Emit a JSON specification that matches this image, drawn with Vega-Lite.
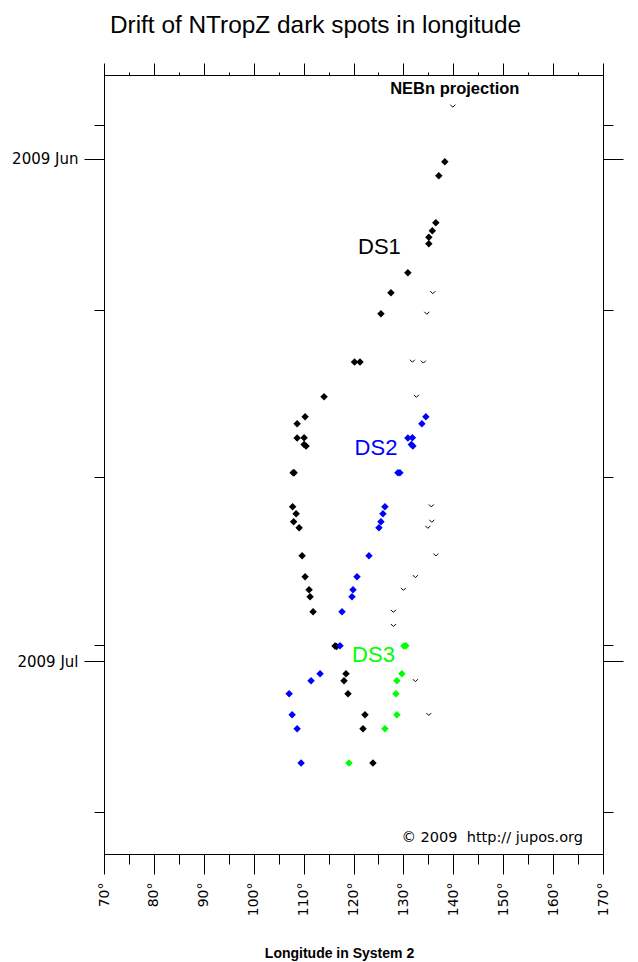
{
  "$schema": "https://vega.github.io/schema/vega-lite/v6.json",
  "autosize": {"type": "none"},
  "width": 499,
  "height": 779,
  "padding": {"left": 104, "top": 75, "right": 35, "bottom": 108},
  "background": "white",
  "title": {"text": "Drift of NTropZ dark spots in longitude", "font": "Liberation Sans", "fontSize": 24.4, "fontWeight": "normal", "color": "black", "anchor": "middle", "frame": "group", "dx": -38, "baseline": "alphabetic", "offset": 5},
  "config": {
    "view": {"stroke": "black", "strokeWidth": 1},
    "axis": {"domainColor": "black", "tickColor": "black", "labelColor": "black", "titleColor": "black", "grid": false, "domainWidth": 1, "tickWidth": 1, "labelOverlap": false, "labelFlush": false, "labelBound": false}
  },
  "datasets": {
    "spots": [
      {"lon": 138.3, "t": "2009-06-01T04:10:00Z", "series": "DS1"},
      {"lon": 137.1, "t": "2009-06-02T00:20:00Z", "series": "DS1"},
      {"lon": 136.5, "t": "2009-06-04T19:40:00Z", "series": "DS1"},
      {"lon": 135.8, "t": "2009-06-05T07:00:00Z", "series": "DS1"},
      {"lon": 135.1, "t": "2009-06-05T16:30:00Z", "series": "DS1"},
      {"lon": 135.1, "t": "2009-06-06T01:40:00Z", "series": "DS1"},
      {"lon": 130.9, "t": "2009-06-07T19:10:00Z", "series": "DS1"},
      {"lon": 127.5, "t": "2009-06-09T00:00:00Z", "series": "DS1"},
      {"lon": 125.5, "t": "2009-06-10T06:00:00Z", "series": "DS1"},
      {"lon": 120.2, "t": "2009-06-13T03:10:00Z", "series": "DS1"},
      {"lon": 121.3, "t": "2009-06-13T03:00:00Z", "series": "DS1"},
      {"lon": 114.1, "t": "2009-06-15T05:00:00Z", "series": "DS1"},
      {"lon": 110.3, "t": "2009-06-16T09:40:00Z", "series": "DS1"},
      {"lon": 108.7, "t": "2009-06-16T19:40:00Z", "series": "DS1"},
      {"lon": 108.7, "t": "2009-06-17T16:10:00Z", "series": "DS1"},
      {"lon": 110.1, "t": "2009-06-17T15:40:00Z", "series": "DS1"},
      {"lon": 110.1, "t": "2009-06-18T01:30:00Z", "series": "DS1"},
      {"lon": 110.5, "t": "2009-06-18T03:40:00Z", "series": "DS1"},
      {"lon": 107.9, "t": "2009-06-19T17:50:00Z", "series": "DS1"},
      {"lon": 108.1, "t": "2009-06-19T17:50:00Z", "series": "DS1"},
      {"lon": 107.8, "t": "2009-06-21T18:30:00Z", "series": "DS1"},
      {"lon": 108.5, "t": "2009-06-22T04:30:00Z", "series": "DS1"},
      {"lon": 108.0, "t": "2009-06-22T16:00:00Z", "series": "DS1"},
      {"lon": 109.1, "t": "2009-06-23T00:40:00Z", "series": "DS1"},
      {"lon": 109.7, "t": "2009-06-24T16:50:00Z", "series": "DS1"},
      {"lon": 110.3, "t": "2009-06-25T22:50:00Z", "series": "DS1"},
      {"lon": 111.1, "t": "2009-06-26T17:30:00Z", "series": "DS1"},
      {"lon": 111.3, "t": "2009-06-27T03:30:00Z", "series": "DS1"},
      {"lon": 111.9, "t": "2009-06-28T01:00:00Z", "series": "DS1"},
      {"lon": 116.3, "t": "2009-06-30T02:10:00Z", "series": "DS1"},
      {"lon": 116.6, "t": "2009-06-30T02:40:00Z", "series": "DS1"},
      {"lon": 118.5, "t": "2009-07-01T17:50:00Z", "series": "DS1"},
      {"lon": 118.1, "t": "2009-07-02T03:50:00Z", "series": "DS1"},
      {"lon": 118.9, "t": "2009-07-02T22:30:00Z", "series": "DS1"},
      {"lon": 122.3, "t": "2009-07-04T04:30:00Z", "series": "DS1"},
      {"lon": 121.9, "t": "2009-07-05T00:40:00Z", "series": "DS1"},
      {"lon": 123.9, "t": "2009-07-07T01:30:00Z", "series": "DS1"},
      {"lon": 134.5, "t": "2009-06-16T09:40:00Z", "series": "DS2"},
      {"lon": 133.7, "t": "2009-06-16T19:40:00Z", "series": "DS2"},
      {"lon": 130.9, "t": "2009-06-17T16:10:00Z", "series": "DS2"},
      {"lon": 131.8, "t": "2009-06-17T15:40:00Z", "series": "DS2"},
      {"lon": 131.6, "t": "2009-06-18T01:30:00Z", "series": "DS2"},
      {"lon": 131.9, "t": "2009-06-18T03:40:00Z", "series": "DS2"},
      {"lon": 128.9, "t": "2009-06-19T17:50:00Z", "series": "DS2"},
      {"lon": 129.3, "t": "2009-06-19T17:50:00Z", "series": "DS2"},
      {"lon": 126.3, "t": "2009-06-21T18:30:00Z", "series": "DS2"},
      {"lon": 125.9, "t": "2009-06-22T04:30:00Z", "series": "DS2"},
      {"lon": 125.5, "t": "2009-06-22T16:00:00Z", "series": "DS2"},
      {"lon": 125.1, "t": "2009-06-23T00:40:00Z", "series": "DS2"},
      {"lon": 123.1, "t": "2009-06-24T16:50:00Z", "series": "DS2"},
      {"lon": 120.7, "t": "2009-06-25T22:50:00Z", "series": "DS2"},
      {"lon": 119.9, "t": "2009-06-26T17:30:00Z", "series": "DS2"},
      {"lon": 119.7, "t": "2009-06-27T03:30:00Z", "series": "DS2"},
      {"lon": 117.7, "t": "2009-06-28T01:00:00Z", "series": "DS2"},
      {"lon": 117.3, "t": "2009-06-30T01:40:00Z", "series": "DS2"},
      {"lon": 113.3, "t": "2009-07-01T17:50:00Z", "series": "DS2"},
      {"lon": 111.5, "t": "2009-07-02T03:50:00Z", "series": "DS2"},
      {"lon": 107.1, "t": "2009-07-02T22:30:00Z", "series": "DS2"},
      {"lon": 107.7, "t": "2009-07-04T04:30:00Z", "series": "DS2"},
      {"lon": 108.7, "t": "2009-07-05T00:40:00Z", "series": "DS2"},
      {"lon": 109.5, "t": "2009-07-07T01:30:00Z", "series": "DS2"},
      {"lon": 130.1, "t": "2009-06-30T02:10:00Z", "series": "DS3"},
      {"lon": 130.5, "t": "2009-06-30T01:40:00Z", "series": "DS3"},
      {"lon": 129.7, "t": "2009-07-01T17:50:00Z", "series": "DS3"},
      {"lon": 128.7, "t": "2009-07-02T03:50:00Z", "series": "DS3"},
      {"lon": 128.5, "t": "2009-07-02T22:30:00Z", "series": "DS3"},
      {"lon": 128.7, "t": "2009-07-04T04:30:00Z", "series": "DS3"},
      {"lon": 126.3, "t": "2009-07-05T00:40:00Z", "series": "DS3"},
      {"lon": 119.1, "t": "2009-07-07T01:30:00Z", "series": "DS3"}
    ],
    "nebn": [
      {"lon": 139.9, "t": "2009-05-28T20:20:00Z"},
      {"lon": 135.9, "t": "2009-06-08T23:30:00Z"},
      {"lon": 134.7, "t": "2009-06-10T05:00:00Z"},
      {"lon": 131.8, "t": "2009-06-13T01:40:00Z"},
      {"lon": 134.0, "t": "2009-06-13T03:00:00Z"},
      {"lon": 132.6, "t": "2009-06-15T04:00:00Z"},
      {"lon": 135.6, "t": "2009-06-21T17:00:00Z"},
      {"lon": 135.7, "t": "2009-06-22T15:00:00Z"},
      {"lon": 134.9, "t": "2009-06-22T23:40:00Z"},
      {"lon": 136.5, "t": "2009-06-24T15:20:00Z"},
      {"lon": 132.4, "t": "2009-06-25T22:20:00Z"},
      {"lon": 130.0, "t": "2009-06-26T16:30:00Z"},
      {"lon": 128.0, "t": "2009-06-28T00:00:00Z"},
      {"lon": 128.0, "t": "2009-06-28T20:20:00Z"},
      {"lon": 132.4, "t": "2009-07-02T03:20:00Z"},
      {"lon": 135.1, "t": "2009-07-04T03:40:00Z"}
    ],
    "labels": [
      {"lon": 125.2, "t": "2009-06-06T05:45:00Z", "series": "DS1"},
      {"lon": 124.5, "t": "2009-06-18T06:30:00Z", "series": "DS2"},
      {"lon": 124.0, "t": "2009-06-30T14:40:00Z", "series": "DS3"}
    ],
    "notes": [
      {"lon": 140.3, "t": "2009-05-27T20:00:00Z", "label": "NEBn projection"}
    ],
    "credit": [
      {"lon": 147.8, "t": "2009-07-11T13:10:00Z", "label": "© 2009\u00a0 http:// jupos.org"}
    ]
  },
  "layer": [
    {
      "data": {"name": "spots"},
      "mark": {"type": "point", "shape": "diamond", "filled": true, "size": 56, "opacity": 1},
      "encoding": {
        "x": {"field": "lon", "type": "quantitative",
          "scale": {"domain": [70, 170], "nice": false, "zero": false},
          "axis": {"orient": "bottom", "values": [70,75,80,85,90,95,100,105,110,115,120,125,130,135,140,145,150,155,160,165,170],
            "tickSize": {"condition": {"test": "datum.value % 10 === 0", "value": 20}, "value": 10},
            "labelExpr": "datum.value % 10 === 0 ? datum.value + '°' : ''",
            "labelAngle": 270, "labelFont": "DejaVu Sans", "labelFontSize": 14, "labelPadding": 8,
            "title": "Longitude in System 2", "titleFont": "Liberation Sans", "titleFontSize": 14, "titleFontWeight": "bold",
            "titleX": 235, "titleY": 103, "titleBaseline": "alphabetic", "titleAnchor": "middle", "titleAlign": "center"}},
        "y": {"field": "t", "type": "temporal",
          "scale": {"type": "utc", "nice": false, "reverse": true, "domain": [{"year": 2009, "month": 5, "date": 27, "utc": true}, {"year": 2009, "month": 7, "date": 12, "hours": 12, "utc": true}]},
          "axis": {"orient": "left",
            "values": [{"year": 2009, "month": 5, "date": 30, "utc": true}, {"year": 2009, "month": 6, "date": 1, "utc": true}, {"year": 2009, "month": 6, "date": 10, "utc": true}, {"year": 2009, "month": 6, "date": 20, "utc": true}, {"year": 2009, "month": 6, "date": 30, "utc": true}, {"year": 2009, "month": 7, "date": 1, "utc": true}, {"year": 2009, "month": 7, "date": 10, "utc": true}],
            "tickSize": {"condition": {"test": "utcdate(datum.value) === 1", "value": 20}, "value": 10},
            "labelExpr": "utcdate(datum.value) === 1 ? utcFormat(datum.value, '%Y %b') : ''",
            "labelFont": "DejaVu Sans", "labelFontSize": 15, "labelPadding": 6, "title": null}},
        "color": {"field": "series", "type": "nominal", "scale": {"domain": ["DS1", "DS2", "DS3"], "range": ["#000000", "#0000ff", "#00ff00"]}, "legend": null}
      }
    },
    {
      "data": {"name": "nebn"},
      "mark": {"type": "point", "shape": "M-1,-0.5L0,0.5L1,-0.5", "filled": false, "stroke": "black", "strokeWidth": 1, "size": 25, "opacity": 1},
      "encoding": {
        "x": {"field": "lon", "type": "quantitative", "scale": {"domain": [70, 170], "nice": false, "zero": false}, "axis": null},
        "y": {"field": "t", "type": "temporal", "scale": {"type": "utc", "nice": false, "reverse": true, "domain": [{"year": 2009, "month": 5, "date": 27, "utc": true}, {"year": 2009, "month": 7, "date": 12, "hours": 12, "utc": true}]}, "axis": null}
      }
    },
    {
      "data": {"name": "labels"},
      "mark": {"type": "text", "font": "Liberation Sans", "fontSize": 22, "align": "center", "baseline": "middle"},
      "encoding": {
        "x": {"field": "lon", "type": "quantitative",
          "scale": {"domain": [70, 170], "nice": false, "zero": false},
          "axis": {"orient": "top", "values": [70,75,80,85,90,95,100,105,110,115,120,125,130,135,140,145,150,155,160,165,170],
            "tickSize": {"condition": {"test": "datum.value % 10 === 0", "value": 12}, "value": 3},
            "labels": false, "title": null}},
        "y": {"field": "t", "type": "temporal",
          "scale": {"type": "utc", "nice": false, "reverse": true, "domain": [{"year": 2009, "month": 5, "date": 27, "utc": true}, {"year": 2009, "month": 7, "date": 12, "hours": 12, "utc": true}]},
          "axis": {"orient": "right",
            "values": [{"year": 2009, "month": 5, "date": 30, "utc": true}, {"year": 2009, "month": 6, "date": 1, "utc": true}, {"year": 2009, "month": 6, "date": 10, "utc": true}, {"year": 2009, "month": 6, "date": 20, "utc": true}, {"year": 2009, "month": 6, "date": 30, "utc": true}, {"year": 2009, "month": 7, "date": 1, "utc": true}, {"year": 2009, "month": 7, "date": 10, "utc": true}],
            "tickSize": {"condition": {"test": "utcdate(datum.value) === 1", "value": 20}, "value": 10},
            "labels": false, "title": null}},
        "text": {"field": "series", "type": "nominal"},
        "color": {"field": "series", "type": "nominal", "scale": {"domain": ["DS1", "DS2", "DS3"], "range": ["#000000", "#0000ff", "#00ff00"]}, "legend": null}
      }
    },
    {
      "data": {"name": "notes"},
      "mark": {"type": "text", "font": "Liberation Sans", "fontSize": 16.5, "fontWeight": "bold", "color": "black", "align": "center", "baseline": "middle"},
      "encoding": {
        "x": {"field": "lon", "type": "quantitative", "scale": {"domain": [70, 170], "nice": false, "zero": false}, "axis": null},
        "y": {"field": "t", "type": "temporal", "scale": {"type": "utc", "nice": false, "reverse": true, "domain": [{"year": 2009, "month": 5, "date": 27, "utc": true}, {"year": 2009, "month": 7, "date": 12, "hours": 12, "utc": true}]}, "axis": null},
        "text": {"field": "label", "type": "nominal"}
      }
    },
    {
      "data": {"name": "credit"},
      "mark": {"type": "text", "font": "DejaVu Sans", "fontSize": 14.5, "color": "black", "align": "center", "baseline": "middle"},
      "encoding": {
        "x": {"field": "lon", "type": "quantitative", "scale": {"domain": [70, 170], "nice": false, "zero": false}, "axis": null},
        "y": {"field": "t", "type": "temporal", "scale": {"type": "utc", "nice": false, "reverse": true, "domain": [{"year": 2009, "month": 5, "date": 27, "utc": true}, {"year": 2009, "month": 7, "date": 12, "hours": 12, "utc": true}]}, "axis": null},
        "text": {"field": "label", "type": "nominal"}
      }
    }
  ],
  "resolve": {"axis": {"x": "independent", "y": "independent"}}
}
